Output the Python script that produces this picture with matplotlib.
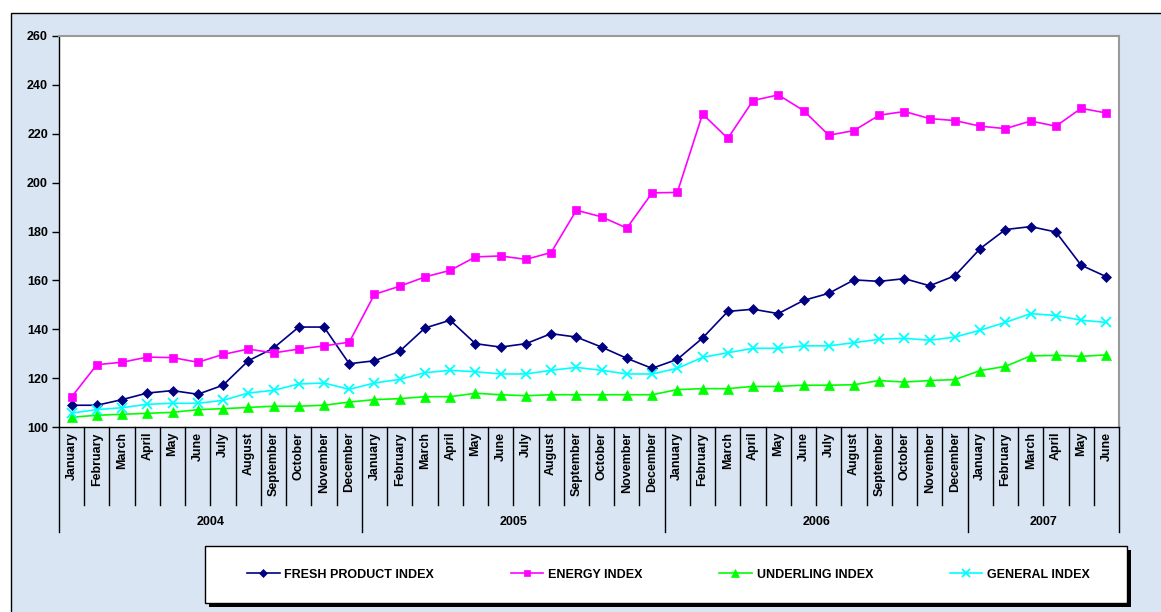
import matplotlib
matplotlib.use("Agg")
import matplotlib.pyplot as plt
from matplotlib.patches import Rectangle

plt.rcParams["font.family"] = ["Liberation Sans", "DejaVu Sans"]
plt.rcParams["font.weight"] = "bold"

months = ["January", "February", "March", "April", "May", "June", "July",
          "August", "September", "October", "November", "December"]
years = ["2004", "2005", "2006", "2007"]
months_per_year = [12, 12, 12, 6]

fresh = [108.9, 108.9, 111.2, 113.9, 114.9, 113.4, 117.1, 127.1, 132.3, 140.9, 140.9, 125.9,
         127.1, 131.0, 140.5, 143.7, 134.1, 132.7, 134.1, 138.2, 136.8, 132.7, 128.1, 124.0,
         127.7, 136.4, 147.3, 148.2, 146.4, 151.8, 154.7, 160.2, 159.6, 160.7, 157.8, 161.9,
         173.0, 180.8, 182.0, 179.8, 166.2, 161.5]
energy = [112.3, 125.5, 126.5, 128.6, 128.4, 126.5, 129.7, 131.9, 130.3, 131.9, 133.2, 134.7,
          154.3, 157.6, 161.4, 164.1, 169.6, 170.0, 168.6, 171.4, 188.7, 186.0, 181.4, 195.8,
          196.0, 228.1, 218.1, 233.6, 235.9, 229.5, 219.4, 221.3, 227.6, 229.1, 226.2, 225.4,
          223.1, 222.1, 225.2, 223.1, 230.4, 228.5]
underlying = [104.0, 104.8, 105.2, 105.6, 106.0, 107.1, 107.5, 108.0, 108.5, 108.5, 108.9, 110.2,
              111.2, 111.6, 112.4, 112.4, 113.8, 113.2, 112.8, 113.2, 113.2, 113.2, 113.2, 113.2,
              115.3, 115.7, 115.7, 116.6, 116.6, 117.1, 117.1, 117.3, 119.0, 118.4, 119.0, 119.4,
              123.1, 124.8, 129.1, 129.3, 128.9, 129.5]
general = [105.7, 107.1, 107.9, 109.3, 109.7, 109.7, 110.9, 113.9, 115.0, 117.6, 118.0, 115.4,
           118.0, 119.5, 122.2, 123.2, 122.6, 121.7, 121.7, 123.2, 124.4, 123.2, 121.7, 121.7,
           124.0, 128.5, 130.4, 132.2, 132.2, 133.2, 133.2, 134.5, 135.9, 136.3, 135.5, 136.8,
           139.6, 142.8, 146.4, 145.6, 143.7, 142.8]

W, H = 1161, 612
fig = plt.figure(figsize=(W / 100, H / 100), dpi=100)
fig.patch.set_facecolor("white")

# chart area panel behind everything
fig.patches.append(Rectangle((11 / W, -0.01), 1.02, (H - 13) / H + 0.01,
                             transform=fig.transFigure, facecolor="#d9e5f2",
                             edgecolor="black", linewidth=1, zorder=-10))

left, right, top, bottom = 59, 1119, 36, 427
ax = fig.add_axes([left / W, (H - bottom) / H, (right - left) / W, (bottom - top) / H])
ax.set_facecolor("white")

x = list(range(len(fresh)))
series = [
    (fresh, "#000080", "D", 5.5, "FRESH PRODUCT INDEX"),
    (energy, "#ff00ff", "s", 6, "ENERGY INDEX"),
    (underlying, "#00ff00", "^", 7, "UNDERLING INDEX"),
    (general, "#00ffff", "x", 7, "GENERAL INDEX"),
]
handles = []
for values, color, marker, ms, label in series:
    h, = ax.plot(x, values, color=color, marker=marker, markersize=ms,
                 markeredgewidth=1.3 if marker == "x" else 0.5,
                 markeredgecolor=color, linewidth=1.2, label=label, clip_on=False)
    handles.append(h)

ax.set_xlim(-0.5, len(fresh) - 0.5)
ax.set_ylim(100, 260)
ax.set_yticks(range(100, 261, 20))
ax.tick_params(axis="y", direction="out", length=5, width=1, pad=3, labelsize=9)
ax.set_xticks([])
for lab in ax.get_yticklabels():
    lab.set_fontweight("bold")

for side in ("top", "right"):
    ax.spines[side].set_color("#9a9a9a")
    ax.spines[side].set_linewidth(1.5)
for side in ("left", "bottom"):
    ax.spines[side].set_color("black")
    ax.spines[side].set_linewidth(1)

# multi-level category axis: months, then years
ph = bottom - top
trans = ax.get_xaxis_transform()
month_line = -78 / ph
year_line = -105 / ph
pos = 0
for year, n in zip(years, months_per_year):
    for i in range(n):
        ax.text(pos + i, -5 / ph, months[i], rotation=90, ha="center", va="top",
                fontsize=9, fontweight="bold", transform=trans)
        if i > 0:
            ax.plot([pos + i - 0.5] * 2, [0, month_line], color="black", lw=1,
                    transform=trans, clip_on=False)
    ax.plot([pos - 0.5] * 2, [0, year_line], color="black", lw=1,
            transform=trans, clip_on=False)
    ax.text(pos + (n - 1) / 2, -95 / ph, year, ha="center", va="center",
            fontsize=9, fontweight="bold", transform=trans)
    pos += n
ax.plot([pos - 0.5] * 2, [0, year_line], color="black", lw=1,
        transform=trans, clip_on=False)

# legend box with a hard black drop shadow
lx0, lx1, ly0, ly1 = 205, 1127, 546, 603
fig.patches.append(Rectangle(((lx0 + 4) / W, (H - ly1 - 4) / H), (lx1 - lx0) / W,
                             (ly1 - ly0) / H, transform=fig.transFigure,
                             facecolor="black", edgecolor="none", zorder=-5))
fig.patches.append(Rectangle((lx0 / W, (H - ly1) / H), (lx1 - lx0) / W,
                             (ly1 - ly0) / H, transform=fig.transFigure,
                             facecolor="white", edgecolor="black", linewidth=1, zorder=-4))

leg = fig.legend(handles=handles, loc="center", ncol=4, mode="expand",
                 bbox_to_anchor=(247 / W, (H - ly1) / H, 843 / W, (ly1 - ly0) / H),
                 borderaxespad=0, borderpad=0, frameon=False,
                 prop={"size": 9, "weight": "bold"},
                 handlelength=2.6, handletextpad=0.4, markerscale=0.8)

fig.savefig("out.png", dpi=100)
